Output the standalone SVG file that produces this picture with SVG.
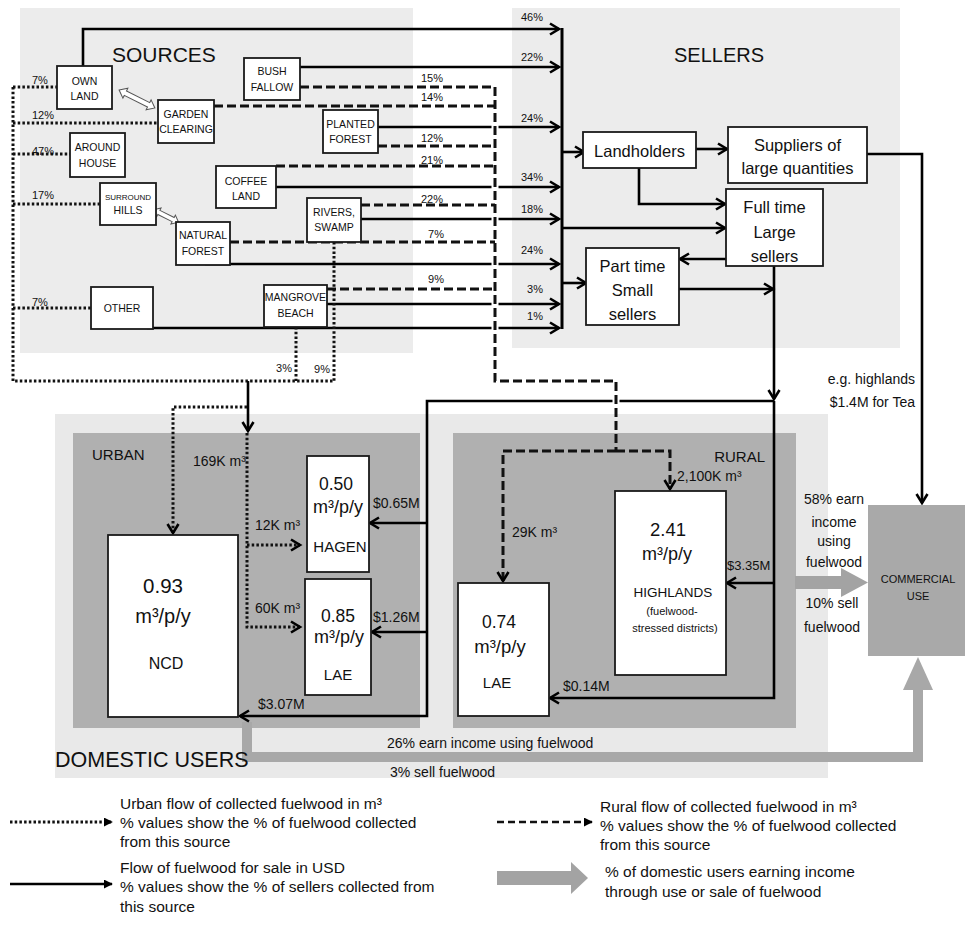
<svg xmlns="http://www.w3.org/2000/svg" width="965" height="930" viewBox="0 0 965 930">
<style>
text{font-family:"Liberation Sans",Arial,sans-serif;fill:#111}
.box{fill:#fff;stroke:#1a1a1a;stroke-width:1.8}
.sl{fill:none;stroke:#000;stroke-width:2.6}
.dot{fill:none;stroke:#111;stroke-width:3;stroke-dasharray:2.5 2.2}
.dash{fill:none;stroke:#111;stroke-width:3;stroke-dasharray:9 4}
.s{font-size:10.5px;text-anchor:middle}
.p{font-size:11px}
.pe{font-size:11px;text-anchor:end}
.pm{font-size:11px;text-anchor:middle}
.sel{font-size:16.5px;text-anchor:middle}
.v{font-size:14px}
.lg{font-size:15.5px}
.c{text-anchor:middle}
.panel{fill:#ececec}
.dark{fill:#b0b0b0}
</style>
<defs>
<marker id="ah" viewBox="0 0 14 14" refX="12" refY="7" markerWidth="14" markerHeight="14" markerUnits="userSpaceOnUse" orient="auto" style="overflow:visible">
<path d="M3,1.5 L12,7 L3,12.5" fill="none" stroke="#000" stroke-width="2.6"/>
</marker>
<marker id="tri" viewBox="0 0 10 10" refX="9" refY="5" markerWidth="9" markerHeight="9" markerUnits="userSpaceOnUse" orient="auto">
<path d="M0,0 L10,5 L0,10 z" fill="#000"/>
</marker>
</defs>
<rect width="965" height="930" fill="#fff"/>
<g id="panels">
<rect class="panel" x="20" y="8" width="393" height="345"/>
<rect class="panel" x="512" y="8" width="388" height="340"/>
<rect fill="#e9e9e9" x="55" y="414" width="773" height="364"/>
<rect class="dark" x="73" y="433" width="347" height="295"/>
<rect class="dark" x="453" y="433" width="343" height="295"/>
</g>
<g id="connectors">
<path d="M247,722 V757 H918 V688" fill="none" stroke="#a8a8a8" stroke-width="10"/>
<polygon points="903,690 918,657 933,690" fill="#a8a8a8"/>
<rect x="795" y="576" width="47" height="13" fill="#a3a3a3"/>
<polygon points="841,568 868,582.5 841,597" fill="#a3a3a3"/>
<path class="sl" d="M83,66 V29 H559" marker-end="url(#ah)"/>
<path class="sl" d="M300,67 H559" marker-end="url(#ah)"/>
<path class="sl" d="M378,127 H559" marker-end="url(#ah)"/>
<path class="sl" d="M276,187 H559" marker-end="url(#ah)"/>
<path class="sl" d="M361,219 H559" marker-end="url(#ah)"/>
<path class="sl" d="M205,264 H559" marker-end="url(#ah)"/>
<path class="sl" d="M327,304 H559" marker-end="url(#ah)"/>
<path class="sl" d="M147,328 H559" marker-end="url(#ah)"/>
<path d="M562,28 V329" stroke="#000" stroke-width="3"/>
<path class="sl" d="M562,152 H584" marker-end="url(#ah)"/>
<path class="sl" d="M562,228 H725" marker-end="url(#ah)"/>
<path class="sl" d="M562,283 H586" marker-end="url(#ah)"/>
<path class="sl" d="M696,149 H727" marker-end="url(#ah)"/>
<path class="sl" d="M639,168 V204 H725" marker-end="url(#ah)"/>
<path class="sl" d="M726,259 H680" marker-end="url(#ah)"/>
<path class="sl" d="M679,289 H773" marker-end="url(#ah)"/>
<path class="sl" d="M774,266 V399" marker-end="url(#ah)"/>
<path class="sl" d="M774,401 V698 H550" marker-end="url(#ah)"/>
<path class="sl" d="M774,583 H727" marker-end="url(#ah)"/>
<path class="sl" d="M774,401 H427 V716 H240" marker-end="url(#ah)"/>
<path class="sl" d="M427,523 H370" marker-end="url(#ah)"/>
<path class="sl" d="M427,632 H372" marker-end="url(#ah)"/>
<path class="sl" d="M867,154 H922 V503" marker-end="url(#ah)"/>
<line x1="495" y1="110" x2="495" y2="335" stroke="#fff" stroke-width="7"/>
<line x1="616" y1="396" x2="616" y2="406" stroke="#fff" stroke-width="7"/>
<path class="dash" d="M300,87 H495"/>
<path class="dash" d="M214,106 H495"/>
<path class="dash" d="M378,146 H495"/>
<path class="dash" d="M276,166 H495"/>
<path class="dash" d="M361,205 H495"/>
<path class="dash" d="M230,242 H495"/>
<path class="dash" d="M327,289 H495"/>
<path class="dash" d="M495,87 V381 H616 V451"/>
<path class="dash" d="M616,451 H503 V581" marker-end="url(#ah)"/>
<path class="dash" d="M616,451 H670 V489" marker-end="url(#ah)"/>
<path class="dot" d="M13,87 H57"/>
<path class="dot" d="M13,123 H158"/>
<path class="dot" d="M13,154 H70"/>
<path class="dot" d="M13,204 H100"/>
<path class="dot" d="M13,308 H91"/>
<path class="dot" d="M13,87 V381 H334"/>
<path class="dot" d="M296,327 V381"/>
<path class="dot" d="M334,242 V381"/>
<path class="sl" d="M248,381 V431" marker-end="url(#ah)"/>
<path class="dot" d="M247,433 V627 H300" marker-end="url(#ah)"/>
<path class="dot" d="M247,545 H300" marker-end="url(#ah)"/>
<path class="dot" d="M247,407 H173 V533" marker-end="url(#ah)"/>
<polygon transform="translate(137,99) rotate(26.6)" points="-20,0 -13,-5.5 -13,-2.5 13,-2.5 13,-5.5 20,0 13,5.5 13,2.5 -13,2.5 -13,5.5" fill="#fff" stroke="#555" stroke-width="1"/>
<polygon transform="translate(166,216) rotate(26.6)" points="-14,0 -8,-5 -8,-2.3 8,-2.3 8,-5 14,0 8,5 8,2.3 -8,2.3 -8,5" fill="#fff" stroke="#555" stroke-width="1"/>
</g>
<g id="titles">
<text x="112" y="62" font-size="21">SOURCES</text>
<text x="674" y="62" font-size="20">SELLERS</text>
<text x="55" y="767" font-size="21.5">DOMESTIC USERS</text>
<text x="92" y="460" font-size="15">URBAN</text>
<text x="765" y="462" font-size="15" text-anchor="end">RURAL</text>
</g>
<g id="labels">
<text class="pe" x="543" y="21">46%</text>
<text class="pe" x="543" y="61">22%</text>
<text class="pe" x="543" y="122">24%</text>
<text class="pe" x="543" y="181">34%</text>
<text class="pe" x="543" y="213">18%</text>
<text class="pe" x="543" y="254">24%</text>
<text class="pe" x="543" y="293">3%</text>
<text class="pe" x="543" y="320">1%</text>
<text class="pm" x="432" y="82">15%</text>
<text class="pm" x="432" y="101">14%</text>
<text class="pm" x="432" y="142">12%</text>
<text class="pm" x="432" y="164">21%</text>
<text class="pm" x="432" y="203">22%</text>
<text class="pm" x="436" y="238">7%</text>
<text class="pm" x="436" y="283">9%</text>
<text class="p" x="32" y="84">7%</text>
<text class="p" x="32" y="119">12%</text>
<text class="p" x="32" y="155">47%</text>
<text class="p" x="32" y="199">17%</text>
<text class="p" x="32" y="306">7%</text>
<text class="pe" x="292" y="372">3%</text>
<text class="pe" x="330" y="373">9%</text>
<text class="v" x="193" y="466">169K m³</text>
<text class="v" x="255" y="530">12K m³</text>
<text class="v" x="255" y="613">60K m³</text>
<text class="v" x="373" y="508">$0.65M</text>
<text class="v" x="373" y="622">$1.26M</text>
<text class="v" x="258" y="709">$3.07M</text>
<text x="727" y="570" font-size="13">$3.35M</text>
<text class="v" x="563" y="691">$0.14M</text>
<text class="v" x="512" y="537">29K m³</text>
<text class="v" x="677" y="481">2,100K m³</text>
<text class="v c" x="834" y="504">58% earn</text>
<text class="v c" x="834" y="527">income</text>
<text class="v c" x="834" y="546">using</text>
<text class="v c" x="834" y="567">fuelwood</text>
<text class="v c" x="832" y="608">10% sell</text>
<text class="v c" x="832" y="632">fuelwood</text>
<text class="v" x="915" y="384" text-anchor="end">e.g. highlands</text>
<text class="v" x="915" y="407" text-anchor="end">$1.4M for Tea</text>
<text class="v" x="387" y="748">26% earn income using fuelwood</text>
<text class="v" x="390" y="777">3% sell fuelwood</text>
</g>
<g id="src-own-land"><rect class="box" x="57" y="66" width="55" height="43"/><text class="s" x="84.5" y="85">OWN</text><text class="s" x="84.5" y="100">LAND</text></g>
<g id="src-garden-clearing"><rect class="box" x="158" y="100" width="56" height="43"/><text class="s" x="186" y="118">GARDEN</text><text class="s" x="186" y="133">CLEARING</text></g>
<g id="src-around-house"><rect class="box" x="70" y="133" width="55" height="44"/><text class="s" x="97.5" y="151">AROUND</text><text class="s" x="97.5" y="167">HOUSE</text></g>
<g id="src-bush-fallow"><rect class="box" x="244" y="58" width="56" height="42"/><text class="s" x="272" y="75">BUSH</text><text class="s" x="272" y="91">FALLOW</text></g>
<g id="src-planted-forest"><rect class="box" x="323" y="110" width="55" height="43"/><text class="s" x="350.5" y="128">PLANTED</text><text class="s" x="350.5" y="143">FOREST</text></g>
<g id="src-coffee-land"><rect class="box" x="216" y="166" width="60" height="42"/><text class="s" x="246" y="185">COFFEE</text><text class="s" x="246" y="200">LAND</text></g>
<g id="src-surround-hills"><rect class="box" x="100" y="183" width="56" height="42"/><text x="128" y="200" font-size="8" text-anchor="middle">SURROUND</text><text class="s" x="128" y="214">HILLS</text></g>
<g id="src-natural-forest"><rect class="box" x="176" y="222" width="54" height="43"/><text class="s" x="203" y="239">NATURAL</text><text class="s" x="203" y="255">FOREST</text></g>
<g id="src-rivers-swamp"><rect class="box" x="307" y="198" width="54" height="44"/><text class="s" x="334" y="216">RIVERS,</text><text class="s" x="334" y="231">SWAMP</text></g>
<g id="src-other"><rect class="box" x="91" y="287" width="62" height="42"/><text class="s" x="122" y="312">OTHER</text></g>
<g id="src-mangrove-beach"><rect class="box" x="264" y="285" width="63" height="42"/><text class="s" x="295.5" y="301">MANGROVE</text><text class="s" x="295.5" y="317">BEACH</text></g>
<g id="sel-landholders"><rect class="box" x="583" y="132" width="113" height="36"/><text class="sel" x="639.5" y="157">Landholders</text></g>
<g id="sel-suppliers"><rect class="box" x="728" y="127" width="139" height="56"/><text class="sel" x="797.5" y="151">Suppliers of</text><text class="sel" x="797.5" y="174">large quantities</text></g>
<g id="sel-fulltime"><rect class="box" x="726" y="189" width="97" height="77"/><text class="sel" x="774.5" y="213">Full time</text><text class="sel" x="774.5" y="238">Large</text><text class="sel" x="774.5" y="262">sellers</text></g>
<g id="sel-parttime"><rect class="box" x="586" y="248" width="93" height="77"/><text class="sel" x="632.5" y="272">Part time</text><text class="sel" x="632.5" y="296">Small</text><text class="sel" x="632.5" y="320">sellers</text></g>
<g id="dom-ncd"><rect class="box" x="108" y="535" width="130" height="182"/><text x="163" y="593" font-size="20.5" text-anchor="middle">0.93</text><text x="163" y="623" font-size="20" text-anchor="middle">m³/p/y</text><text x="166" y="669" font-size="16" text-anchor="middle">NCD</text></g>
<g id="dom-hagen"><rect class="box" x="307" y="456" width="62" height="116"/><text x="336" y="490" font-size="17.5" text-anchor="middle">0.50</text><text x="338" y="513" font-size="18" text-anchor="middle">m³/p/y</text><text x="340" y="552" font-size="15" text-anchor="middle">HAGEN</text></g>
<g id="dom-lae-urban"><rect class="box" x="305" y="579" width="66" height="116"/><text x="338" y="622" font-size="17.5" text-anchor="middle">0.85</text><text x="339" y="643" font-size="18" text-anchor="middle">m³/p/y</text><text x="338" y="680" font-size="15" text-anchor="middle">LAE</text></g>
<g id="dom-lae-rural"><rect class="box" x="458" y="583" width="91" height="133"/><text x="499" y="628" font-size="17.5" text-anchor="middle">0.74</text><text x="500" y="653" font-size="18.5" text-anchor="middle">m³/p/y</text><text x="497" y="688" font-size="15" text-anchor="middle">LAE</text></g>
<g id="dom-highlands"><rect class="box" x="615" y="491" width="111" height="184"/><text x="668" y="536" font-size="18.5" text-anchor="middle">2.41</text><text x="667" y="560" font-size="18" text-anchor="middle">m³/p/y</text><text x="673" y="597" font-size="13.5" text-anchor="middle">HIGHLANDS</text><text x="672" y="615" font-size="11" text-anchor="middle">(fuelwood-</text><text x="675" y="632" font-size="11" text-anchor="middle">stressed districts)</text></g>
<g id="commercial-use"><rect x="868" y="505" width="97" height="151" fill="#a9a9a9"/><text x="918" y="583" font-size="11" text-anchor="middle">COMMERCIAL</text><text x="918" y="600" font-size="11" text-anchor="middle">USE</text></g>
<g id="legend">
<path class="dot" d="M10,822 H112" marker-end="url(#tri)"/>
<text class="lg" x="120" y="809">Urban flow of collected fuelwood in m³</text>
<text class="lg" x="120" y="828">% values show the % of fuelwood collected</text>
<text class="lg" x="120" y="847">from this source</text>
<path class="dash" d="M497,822 H592" marker-end="url(#tri)" style="stroke-dasharray:7 4;stroke-width:2.5"/>
<text class="lg" x="600" y="812">Rural flow of collected fuelwood in m³</text>
<text class="lg" x="600" y="831">% values show the % of fuelwood collected</text>
<text class="lg" x="600" y="850">from this source</text>
<path class="sl" d="M10,884 H112" marker-end="url(#tri)"/>
<text class="lg" x="120" y="873">Flow of fuelwood for sale in USD</text>
<text class="lg" x="120" y="892">% values show the % of sellers collected from</text>
<text class="lg" x="120" y="912">this source</text>
<rect x="497" y="871" width="75" height="14" fill="#a3a3a3"/>
<polygon points="571,862 588,878 571,894" fill="#a3a3a3"/>
<text class="lg" x="605" y="877">% of domestic users earning income</text>
<text class="lg" x="605" y="897">through use or sale of fuelwood</text>
</g>
</svg>
